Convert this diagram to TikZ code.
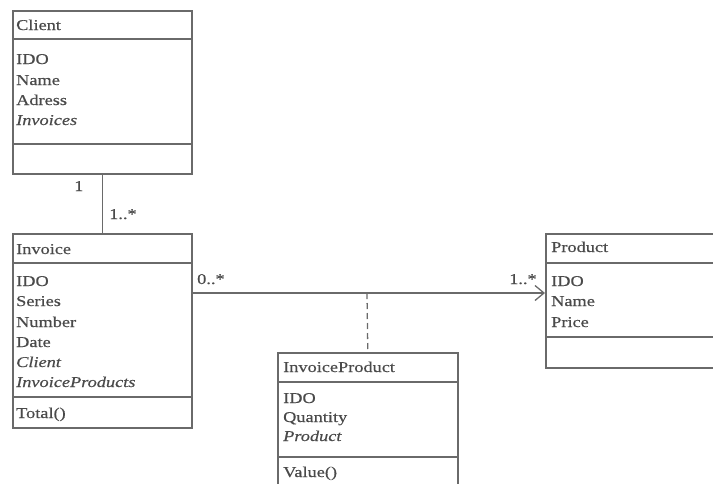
\documentclass[tikz,border=0pt]{standalone}
\usepackage{fontspec}
\setmainfont{Liberation Serif}[FakeStretch=1.22, FakeBold=0.4]
\usetikzlibrary{arrows.meta}
\definecolor{ln}{HTML}{6A6A6A}
\definecolor{tx}{HTML}{4A4A4A}
\tikzset{
  box/.style={draw=ln, line width=1.6pt, anchor=north west, inner sep=0pt},
  sep/.style={draw=ln, line width=1.4pt},
  conn/.style={draw=ln, line width=1.3pt},
  lbl/.style={anchor=base west, inner sep=0pt, text=tx, font=\fontsize{15}{18}\selectfont},
}
\begin{document}
\begin{tikzpicture}[x=1pt,y=-1pt]
\useasboundingbox (0,0) rectangle (713,483);
\clip (0,0) rectangle (713,483);
% Client
\node[box, minimum width=179pt, minimum height=163pt] (client) at (12,10) {};
\draw[sep] (12,39) -- (191,39);
\draw[sep] (12,144) -- (191,144);
\node[lbl] (c0) at (16,30) {Client};
\node[lbl] (c1) at (16,64) {IDO};
\node[lbl] (c2) at (16,85) {Name};
\node[lbl] (c3) at (16,105) {Adress};
\node[lbl] (c4) at (16,125) {\itshape Invoices};
% Invoice
\node[box, minimum width=179pt, minimum height=194pt] (invoice) at (12,233) {};
\draw[sep] (12,263) -- (191,263);
\draw[sep] (12,397) -- (191,397);
\node[lbl] (i0) at (16,254) {Invoice};
\node[lbl] (i1) at (16,286) {IDO};
\node[lbl] (i2) at (16,306) {Series};
\node[lbl] (i3) at (16,327) {Number};
\node[lbl] (i4) at (16,347) {Date};
\node[lbl] (i5) at (16,367) {\itshape Client};
\node[lbl] (i6) at (16,387) {\itshape InvoiceProducts};
\node[lbl] (i7) at (16,418) {Total()};
% Product
\node[box, minimum width=200pt, minimum height=134pt] (product) at (545,233) {};
\draw[sep] (545,263) -- (720,263);
\draw[sep] (545,337) -- (720,337);
\node[lbl] (p0) at (551,252) {Product};
\node[lbl] (p1) at (551,286) {IDO};
\node[lbl] (p2) at (551,306) {Name};
\node[lbl] (p3) at (551,327) {Price};
% InvoiceProduct
\node[box, minimum width=180pt, minimum height=160pt] (ip) at (277,352) {};
\draw[sep] (277,382) -- (457,382);
\draw[sep] (277,457) -- (457,457);
\node[lbl] (ip0) at (283,372) {InvoiceProduct};
\node[lbl] (ip1) at (283,403) {IDO};
\node[lbl] (ip2) at (283,422) {Quantity};
\node[lbl] (ip3) at (283,441) {\itshape Product};
\node[lbl] (ip4) at (283,477) {Value()};
% connectors
\draw[conn] (client.south) -- (invoice.north);
\node[lbl] (m1) at (74,191) {1};
\node[lbl] (m2) at (109,219) {1..*};
\draw[conn, -{Straight Barb[length=9pt, width=15pt, line width=1.3pt]}] ([yshift=-60pt]invoice.north east) -- ([yshift=-60pt]product.north west);
\node[lbl] (m3) at (197,284) {0..*};
\node[lbl] (m4) at (509,284) {1..*};
\coordinate (mid) at (367,293);
\draw[conn, dashed, dash pattern=on 6pt off 4pt] (mid) -- (ip.north);
\end{tikzpicture}
\end{document}
